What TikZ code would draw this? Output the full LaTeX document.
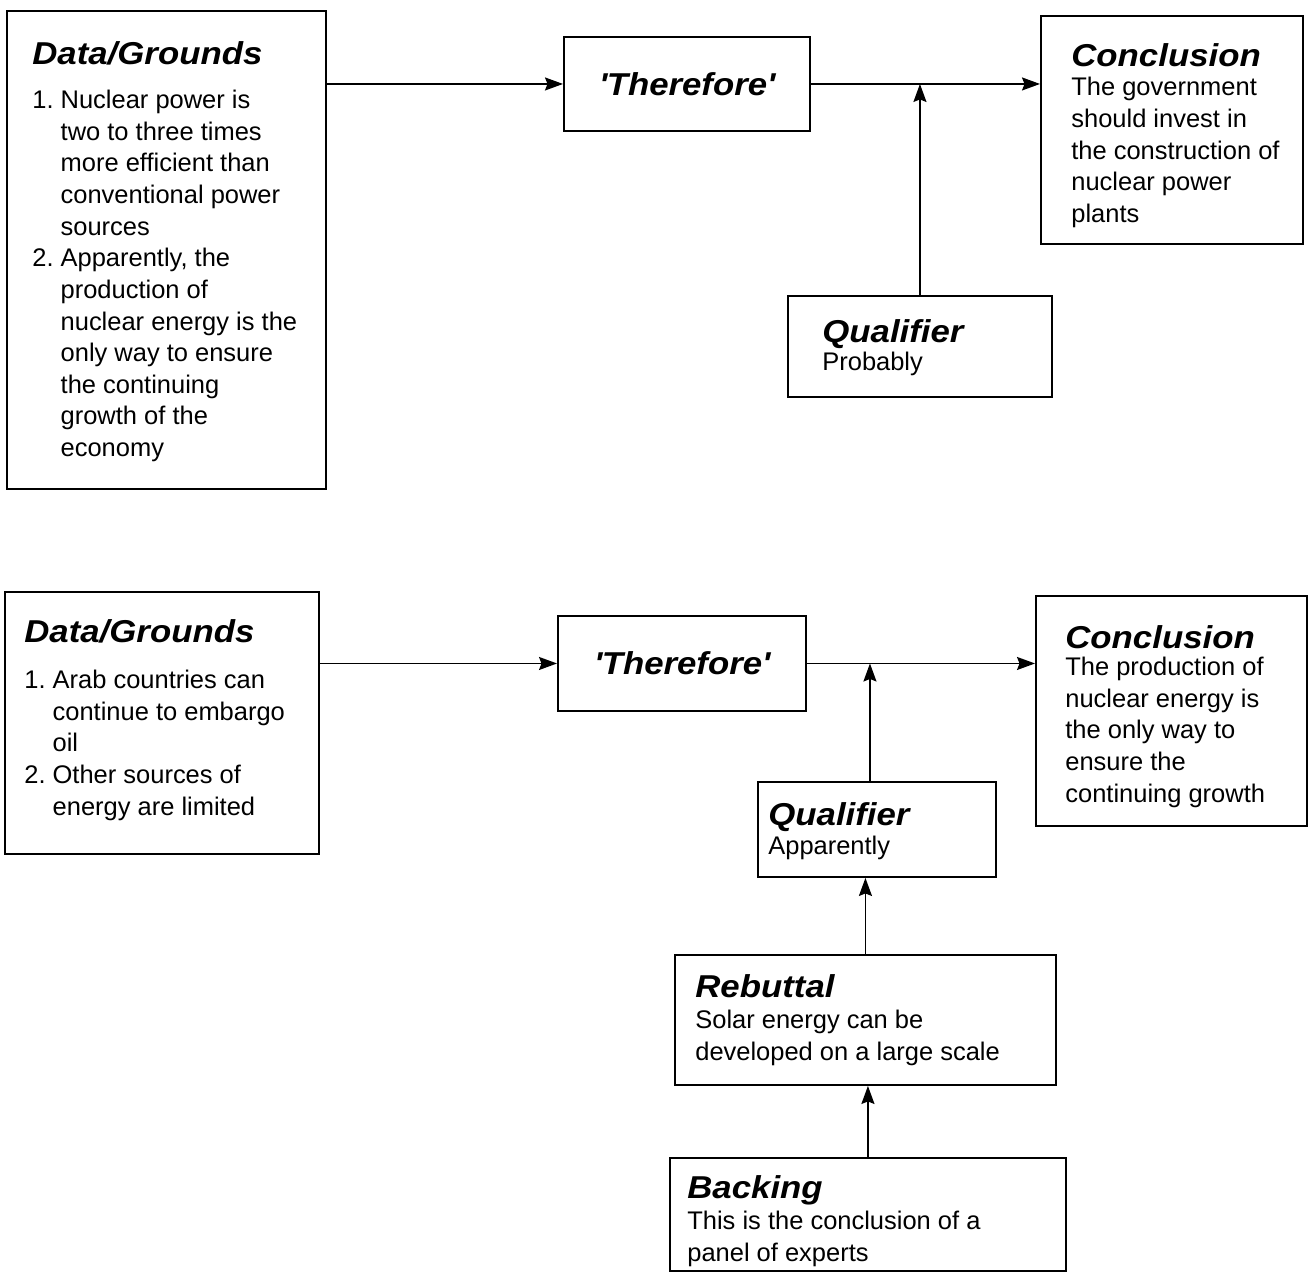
\documentclass[tikz,border=0pt]{standalone}
\usepackage{fontspec}
\setmainfont{Liberation Sans}
\newfontfamily\headfont[FakeStretch=1.1]{Liberation Sans}
\usetikzlibrary{arrows.meta}
\newcommand{\hd}[1]{{\headfont\bfseries\itshape\fontsize{18}{18}\selectfont #1}}
\tikzset{
 box/.style={draw,line width=1.1pt,anchor=north west,inner sep=0pt},
 txt/.style={anchor=base west,inner sep=0pt,font=\fontsize{14.5}{18}\selectfont},
 arr/.style={line width=0.9pt,-{Stealth[length=0.36cm,width=0.26cm,inset=0.05cm]}}
}
\begin{document}
\begin{tikzpicture}[x=0.02cm,y=-0.02cm]
 \useasboundingbox (0,0) rectangle (1314,1279);
 % first argument
 \node[box,minimum width=6.38cm,minimum height=9.56cm] (data1) at (6,10) {};
 \node[box,minimum width=4.92cm,minimum height=1.88cm] (ther1) at (563,36) {\hd{\textquotesingle Therefore\textquotesingle}};
 \node[box,minimum width=5.24cm,minimum height=4.56cm] (conc1) at (1040,15) {};
 \node[box,minimum width=5.28cm,minimum height=2.02cm] (qual1) at (787,295) {};
 \node[txt] (data1-t) at (32,64) {\begin{tabular}[t]{@{}l@{\ }l@{}}
  \multicolumn{2}{@{}l@{}}{\hd{Data/Grounds}}\\[7.4pt]
  1. & Nuclear power is\\
     & two to three times\\
     & more efficient than\\
     & conventional power\\
     & sources\\
  2. & Apparently, the\\
     & production of\\
     & nuclear energy is the\\
     & only way to ensure\\
     & the continuing\\
     & growth of the\\
     & economy
 \end{tabular}};
 \node[txt] (conc1-t) at (1071,66) {\begin{tabular}[t]{@{}l@{}}
  \hd{Conclusion}\\[-1pt]
  The government\\
  should invest in\\
  the construction of\\
  nuclear power\\
  plants
 \end{tabular}};
 \node[txt] (qual1-t) at (822,342) {\begin{tabular}[t]{@{}l@{}}
  \hd{Qualifier}\\[-1.7pt]
  Probably
 \end{tabular}};
 \draw[arr] (ther1.west -| data1.east) -- (ther1.west);
 \draw[arr] (ther1.east) -- (ther1.east -| conc1.west);
 \coordinate (j1) at (qual1.north |- ther1.east);
 \draw[arr] (qual1.north) -- (j1);
 % second argument
 \node[box,minimum width=6.28cm,minimum height=5.24cm] (data2) at (4,591) {};
 \node[box,minimum width=4.96cm,minimum height=1.90cm] (ther2) at (557,615) {\hd{\textquotesingle Therefore\textquotesingle}};
 \node[box,minimum width=5.42cm,minimum height=4.60cm] (conc2) at (1035,595) {};
 \node[box,minimum width=4.76cm,minimum height=1.90cm] (qual2) at (757,781) {};
 \node[box,minimum width=7.62cm,minimum height=2.60cm] (reb) at (674,954) {};
 \node[box,minimum width=7.92cm,minimum height=2.26cm] (back) at (669,1157) {};
 \node[txt] (data2-t) at (24,642) {\begin{tabular}[t]{@{}l@{\ }l@{}}
  \multicolumn{2}{@{}l@{}}{\hd{Data/Grounds}}\\[8.5pt]
  1. & Arab countries can\\
     & continue to embargo\\
     & oil\\
  2. & Other sources of\\
     & energy are limited
 \end{tabular}};
 \node[txt] (conc2-t) at (1065,648) {\begin{tabular}[t]{@{}l@{}}
  \hd{Conclusion}\\[-2.3pt]
  The production of\\
  nuclear energy is\\
  the only way to\\
  ensure the\\
  continuing growth
 \end{tabular}};
 \node[txt] (qual2-t) at (768,825) {\begin{tabular}[t]{@{}l@{}}
  \hd{Qualifier}\\[-1pt]
  Apparently
 \end{tabular}};
 \node[txt] (reb-t) at (695,997) {\begin{tabular}[t]{@{}l@{}}
  \hd{Rebuttal}\\
  Solar energy can be\\
  developed on a large scale
 \end{tabular}};
 \node[txt] (back-t) at (687,1198) {\begin{tabular}[t]{@{}l@{}}
  \hd{Backing}\\
  This is the conclusion of a\\
  panel of experts
 \end{tabular}};
 \draw[arr] (ther2.west -| data2.east) -- (ther2.west);
 \draw[arr] (ther2.east) -- (ther2.east -| conc2.west);
 \coordinate (j2) at ([xshift=-0.14cm]qual2.north |- ther2.east);
 \draw[arr] ([xshift=-0.14cm]qual2.north) -- (j2);
 \draw[arr] (reb.north) -- (reb.north |- qual2.south);
 \draw[arr] (back.north) -- (back.north |- reb.south);
\end{tikzpicture}
\end{document}
